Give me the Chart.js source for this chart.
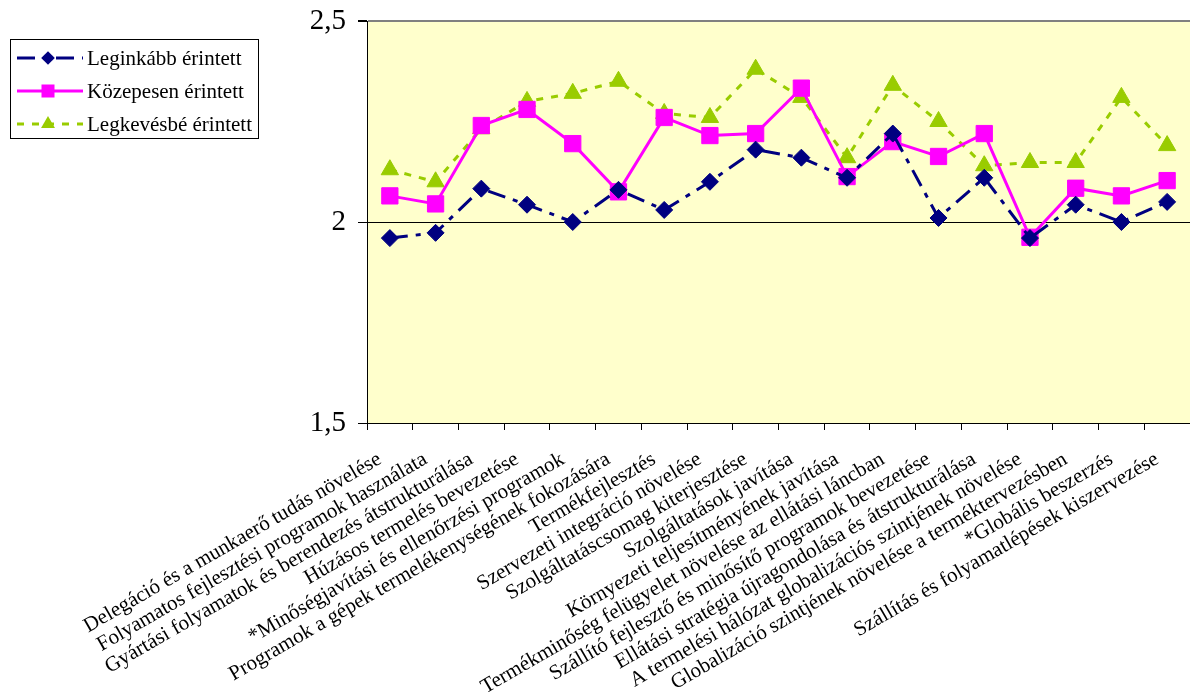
<!DOCTYPE html>
<html>
<head>
<meta charset="utf-8">
<script src="https://cdn.jsdelivr.net/npm/chart.js@4/dist/chart.umd.min.js"></script>
<style>
  html, body { margin: 0; padding: 0; background: #ffffff; }
  #wrap { position: relative; width: 1190px; height: 692px; }
</style>
</head>
<body>
<div id="wrap"><canvas id="c" width="1190" height="692"></canvas></div>
<script>
const categories = [
  "Delegáció és a munkaerő tudás növelése",
  "Folyamatos fejlesztési programok használata",
  "Gyártási folyamatok és berendezés átstrukturálása",
  "Húzásos termelés bevezetése",
  "*Minőségjavítási és ellenőrzési programok",
  "Programok a gépek termelékenységének fokozására",
  "Termékfejlesztés",
  "Szervezeti integráció növelése",
  "Szolgáltatáscsomag kiterjesztése",
  "Szolgáltatások javítása",
  "Környezeti teljesítményének javítása",
  "Termékminőség felügyelet növelése az ellátási láncban",
  "Szállító fejlesztő és minősítő programok bevezetése",
  "Ellátási stratégia újragondolása és átstrukturálása",
  "A termelési hálózat globalizációs szintjének növelése",
  "Globalizáció szintjének növelése a terméktervezésben",
  "*Globális beszerzés",
  "Szállítás és folyamatlépések kiszervezése"
];
const seriesNames = ["Leginkább érintett", "Közepesen érintett", "Legkevésbé érintett"];
const leginkabb = [1.96, 1.973, 2.083, 2.043, 2.00, 2.08, 2.03, 2.10, 2.18, 2.16, 2.11, 2.22, 2.01, 2.11, 1.96, 2.043, 2.00, 2.05];
const kozepesen = [2.065, 2.045, 2.24, 2.28, 2.195, 2.075, 2.26, 2.215, 2.22, 2.333, 2.113, 2.20, 2.163, 2.22, 1.962, 2.084, 2.065, 2.103];
const legkevesbe = [2.13, 2.10, 2.232, 2.30, 2.32, 2.35, 2.27, 2.26, 2.38, 2.31, 2.16, 2.34, 2.25, 2.14, 2.148, 2.148, 2.31, 2.19];
const yTicks = [1.5, 2, 2.5];

const SERIF = "'Liberation Serif', 'Times New Roman', serif";
const NAVY = "#000080", MAGENTA = "#FF00FF", GREEN = "#99CC00";

const plotBg = {
  id: 'plotBg',
  beforeDraw(chart) {
    const {ctx, chartArea: a} = chart;
    ctx.save();
    ctx.fillStyle = '#FFFFCC';
    ctx.fillRect(a.left, a.top, a.right - a.left, a.bottom - a.top);
    ctx.restore();
  }
};

const boxLegend = {
  id: 'boxLegend',
  afterDraw(chart) {
    const ctx = chart.ctx;
    ctx.save();
    ctx.fillStyle = '#ffffff';
    ctx.fillRect(10, 39, 248, 99);
    ctx.strokeStyle = '#000000';
    ctx.lineWidth = 1;
    ctx.strokeRect(10.5, 39.5, 248, 99);
    const rows = [58, 91, 124];
    chart.data.datasets.forEach((ds, i) => {
      const y = rows[i];
      ctx.strokeStyle = ds.borderColor;
      ctx.lineWidth = ds.borderWidth;
      ctx.setLineDash(ds.borderDash || []);
      ctx.beginPath();
      ctx.moveTo(17, y); ctx.lineTo(83, y);
      ctx.stroke();
      ctx.setLineDash([]);
      ctx.fillStyle = ds.pointBackgroundColor;
      const mx = 48, r = ds.pointRadius * 0.8;
      ctx.beginPath();
      if (ds.pointStyle === 'rectRot') {
        ctx.moveTo(mx, y - r); ctx.lineTo(mx + r, y); ctx.lineTo(mx, y + r); ctx.lineTo(mx - r, y);
      } else if (ds.pointStyle === 'rect') {
        const s = r * Math.SQRT1_2;
        ctx.rect(mx - s, y - s, 2 * s, 2 * s);
      } else {
        ctx.moveTo(mx, y - r); ctx.lineTo(mx + r * 0.866, y + r / 2); ctx.lineTo(mx - r * 0.866, y + r / 2);
      }
      ctx.closePath();
      ctx.fill();
      ctx.fillStyle = '#000000';
      ctx.font = "21px " + SERIF;
      ctx.textBaseline = 'middle';
      ctx.textAlign = 'left';
      ctx.fillText(ds.label, 87, y + 1);
    });
    ctx.restore();
  }
};

new Chart(document.getElementById('c'), {
  type: 'line',
  data: {
    labels: categories,
    datasets: [
      {
        label: seriesNames[0], data: leginkabb,
        borderColor: NAVY, backgroundColor: NAVY, borderWidth: 3,
        borderDash: [18, 8, 5, 8],
        pointStyle: 'rectRot', pointRadius: 8.5, pointBackgroundColor: NAVY, pointBorderColor: NAVY, pointBorderWidth: 1,
        tension: 0, fill: false
      },
      {
        label: seriesNames[1], data: kozepesen,
        borderColor: MAGENTA, backgroundColor: MAGENTA, borderWidth: 3,
        pointStyle: 'rect', pointRadius: 11.5, pointBackgroundColor: MAGENTA, pointBorderColor: MAGENTA, pointBorderWidth: 1,
        tension: 0, fill: false
      },
      {
        label: seriesNames[2], data: legkevesbe,
        borderColor: GREEN, backgroundColor: GREEN, borderWidth: 3,
        borderDash: [7, 8],
        pointStyle: 'triangle', pointRadius: 10, pointBackgroundColor: GREEN, pointBorderColor: GREEN, pointBorderWidth: 1,
        tension: 0, fill: false
      }
    ]
  },
  options: {
    responsive: false,
    animation: false,
    layout: { autoPadding: false, padding: { top: 21, right: 0, left: 0, bottom: 0 } },
    plugins: { legend: { display: false }, tooltip: { enabled: false } },
    scales: {
      x: {
        type: 'category',
        offset: true,
        grid: { display: true, drawOnChartArea: false, offset: true, color: '#000000', tickLength: 7, tickWidth: 1 },
        border: { color: '#000000', width: 1 },
        ticks: {
          autoSkip: false, minRotation: 30, maxRotation: 30, padding: 17, labelOffset: -10,
          color: '#000000', font: { family: SERIF, size: 21 }
        },
        afterFit(scale) {
          scale.height = 692 - 423;
          scale.paddingLeft = 0; scale.paddingRight = 0;
        }
      },
      y: {
        min: 1.5, max: 2.5,
        afterBuildTicks(scale) { scale.ticks = yTicks.map(v => ({ value: v })); },
        grid: {
          drawOnChartArea: true,
          color: (c) => (c.tick && c.tick.value === 2.5) ? '#808080' : '#000000',
          lineWidth: (c) => (c.tick && c.tick.value === 2.5) ? 2 : 1,
          tickLength: 9, tickColor: '#000000'
        },
        border: { color: '#000000', width: 1 },
        ticks: {
          padding: 12, color: '#000000', font: { family: SERIF, size: 29 },
          callback: (v) => String(v).replace('.', ',')
        },
        afterFit(scale) {
          scale.width = 367;
          scale.paddingTop = 0; scale.paddingBottom = 0;
        }
      }
    }
  },
  plugins: [plotBg, boxLegend]
});
</script>
</body>
</html>
